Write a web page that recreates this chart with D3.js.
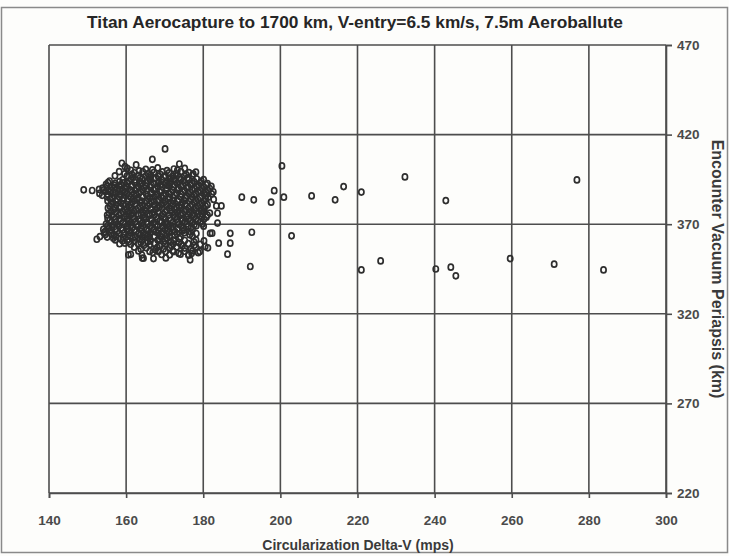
<!DOCTYPE html>
<html>
<head>
<meta charset="utf-8">
<script src="https://cdn.jsdelivr.net/npm/d3@7"></script>
<style>
  html, body { margin: 0; padding: 0; background: #fdfdfb; }
  svg { display: block; }
  text { font-family: "Liberation Sans", Arial, sans-serif; }
</style>
</head>
<body>
<svg id="chart" width="729" height="556"></svg>
<script>
// ---- data ----
const chartTitle = "Titan Aerocapture to 1700 km, V-entry=6.5 km/s, 7.5m Aeroballute";
const xTitle = "Circularization Delta-V (mps)";
const yTitle = "Encounter Vacuum Periapsis (km)";
const xTicks = [140, 160, 180, 200, 220, 240, 260, 280, 300];
const yTicks = [220, 270, 320, 370, 420, 470];

// Monte Carlo cases: [delta-V (m/s), periapsis (km)] — dense core
const coreCases = [
  [160.3,401.2],[165.1,400.6],[168.2,401.4],[172.4,400.8],[175.2,401.1],
  [158.2,399.3],[162.1,398.7],[164.3,399.4],[167.2,398.9],[169.4,399.2],[171.1,398.6],[174.2,399.3],[176.3,398.8],[178.1,399.1],
  [160.2,396.8],[163.1,397.3],[165.2,396.9],[166.4,397.4],[168.3,396.7],[170.2,397.1],[172.1,396.8],[173.4,397.3],[175.1,396.9],[177.2,397.2],
  [159.1,394.8],[161.3,395.3],[162.4,394.7],[164.2,395.2],[166.1,394.9],[167.3,395.4],[169.2,394.8],[171.3,395.2],[172.4,394.7],[174.1,395.1],[176.2,394.8],[178.3,395.3],[180.1,394.9],
  [155.3,393.2],[157.2,392.8],[159.4,393.1],[160.3,392.7],[162.2,393.3],[164.1,392.9],[165.3,393.2],[167.1,392.8],[168.4,393.3],[170.2,392.7],[171.3,393.1],[173.2,392.9],[175.3,393.2],[177.1,392.8],[179.2,393.1],[181.1,392.7],
  [155.1,391.2],[156.3,390.8],[158.2,391.3],[160.1,390.7],[161.4,391.1],[163.2,390.9],[165.1,391.3],[166.3,390.8],[168.2,391.2],[169.4,390.7],[171.1,391.3],[172.3,390.9],[174.2,391.1],[176.1,390.8],[178.3,391.2],[180.2,390.7],[182.1,391.1],
  [154.2,389.1],[156.1,388.8],[158.3,389.3],[159.2,388.7],[161.1,389.2],[162.3,388.9],[164.2,389.3],[165.4,388.8],[167.1,389.1],[169.2,388.7],[170.4,389.2],[172.1,388.9],[173.3,389.3],[175.2,388.8],[177.1,389.1],[179.3,388.7],[181.2,389.2],
  [153.1,387.2],[155.2,386.8],[157.1,387.3],[158.4,386.7],[160.2,387.1],[162.1,386.9],[163.3,387.3],[165.2,386.8],[166.4,387.2],[168.1,386.7],[170.3,387.1],[171.2,386.9],[173.1,387.3],[174.3,386.8],[176.2,387.2],[178.1,386.7],[180.3,387.1],[182.2,386.9],
  [155.1,385.2],[156.4,384.8],[158.2,385.3],[159.3,384.7],[161.2,385.1],[163.1,384.9],[164.3,385.3],[166.2,384.8],[167.4,385.2],[169.1,384.7],[171.3,385.1],[172.2,384.9],[174.1,385.3],[175.4,384.8],[177.2,385.2],[179.1,384.7],[181.3,385.1],
  [155.2,383.1],[157.3,382.8],[159.1,383.3],[160.4,382.7],[162.2,383.2],[164.1,382.9],[165.3,383.1],[167.2,382.8],[168.4,383.3],[170.1,382.7],[172.2,383.1],[173.4,382.9],[175.1,383.2],[176.3,382.8],[178.2,383.1],[180.1,382.7],
  [156.1,381.2],[157.4,380.8],[159.2,381.1],[161.1,380.9],[162.3,381.3],[164.2,380.7],[166.1,381.2],[167.3,380.8],[169.2,381.1],[170.4,380.9],[172.1,381.3],[174.2,380.7],[175.3,381.2],[177.1,380.8],[179.2,381.1],[181.1,380.9],
  [155.3,379.1],[157.1,378.8],[158.3,379.2],[160.2,378.7],[161.4,379.3],[163.1,378.9],[165.2,379.1],[166.4,378.8],[168.1,379.2],[169.3,378.7],[171.2,379.1],[173.1,378.9],[174.3,379.3],[176.2,378.8],[178.1,379.1],[180.3,378.7],
  [156.2,377.2],[157.3,376.8],[159.1,377.1],[160.4,376.9],[162.1,377.3],[164.3,376.7],[165.1,377.2],[167.2,376.8],[168.3,377.1],[170.1,376.9],[171.4,377.3],[173.2,376.7],[175.1,377.2],[176.3,376.8],[178.2,377.1],[180.1,376.9],
  [155.1,375.1],[156.3,374.8],[158.2,375.2],[160.1,374.7],[161.3,375.3],[163.2,374.9],[164.4,375.1],[166.1,374.8],[167.3,375.2],[169.2,374.7],[171.1,375.1],[172.3,374.9],[174.2,375.3],[176.1,374.8],[177.3,375.2],[179.2,374.7],[181.1,375.1],
  [155.2,373.2],[157.1,372.8],[158.4,373.1],[160.2,372.9],[162.1,373.3],[163.3,372.7],[165.2,373.2],[166.4,372.8],[168.1,373.1],[170.2,372.9],[171.3,373.3],[173.1,372.7],[174.4,373.2],[176.2,372.8],[178.1,373.1],[180.2,372.9],
  [156.1,371.1],[157.3,370.8],[159.2,371.2],[161.1,370.7],[162.4,371.3],[164.2,370.9],[165.3,371.1],[167.1,370.8],[169.2,371.2],[170.3,370.7],[172.1,371.1],[173.4,370.9],[175.2,371.3],[177.1,370.8],[179.3,371.2],
  [155.2,369.2],[156.4,368.8],[158.1,369.1],[160.3,368.9],[161.2,369.3],[163.1,368.7],[164.3,369.2],[166.2,368.8],[168.1,369.1],[169.4,368.9],[171.2,369.3],[172.1,368.7],[174.3,369.2],[176.1,368.8],[178.2,369.1],[180.1,368.9],
  [154.1,367.1],[156.2,366.8],[157.3,367.2],[159.1,366.7],[160.4,367.3],[162.2,366.9],[164.1,367.1],[165.3,366.8],[167.2,367.2],[168.4,366.7],[170.1,367.1],[172.2,366.9],[173.3,367.3],[175.1,366.8],[177.2,367.1],
  [154.3,365.2],[156.1,364.8],[158.2,365.1],[159.4,364.9],[161.1,365.3],[163.2,364.7],[164.4,365.2],[166.1,364.8],[168.3,365.1],[169.2,364.9],[171.1,365.3],[173.2,364.7],[175.1,365.2],[178.2,364.8],
  [153.2,363.1],[155.1,362.8],[157.3,363.2],[159.2,362.7],[161.1,363.3],[162.3,362.9],[164.2,363.1],[166.1,362.8],[167.4,363.2],[169.1,362.7],[171.3,363.1],[174.1,362.9],[177.2,363.3],
  [157.2,361.2],[159.1,360.8],[160.3,361.1],[162.2,360.9],[164.1,361.3],[166.3,360.7],[168.2,361.2],[170.1,360.8],[172.3,361.1],[175.2,360.9],[178.1,361.3],[180.2,360.7],
  [158.3,359.1],[161.2,358.8],[163.1,359.2],[166.2,358.7],[167.3,359.3],[170.1,358.9],[172.2,359.1],[174.3,358.8],[176.1,359.2],[179.2,358.7],
  [162.1,357.2],[165.2,356.8],[168.1,357.1],[171.3,356.9],[173.1,357.3],[175.2,356.7],[178.1,357.2],[181.2,356.8],
  [163.2,355.1],[166.1,354.8],[168.3,355.2],[170.2,354.7],[172.1,355.3],[175.1,354.9],[177.2,355.1],[179.1,354.8],
  [161.2,353.2],[164.1,352.8],[169.2,353.1],[171.3,352.9],[174.1,353.3],[176.2,352.7],
  [164.2,351.1],[167.1,350.8],[170.3,351.2]
];

// further core cases lying between the rows above
const coreCases2 = [
  [161.2,400.1],[163.4,399.8],[166.8,400.3],[170.6,399.9],[173.3,400.2],
  [159.6,398.1],[161.5,397.8],[165.7,398.2],[168.8,397.9],[172.9,398.3],[175.6,397.7],[177.4,398.1],
  [161.7,396.1],[163.6,395.9],[165.9,396.3],[167.7,395.7],[169.8,396.2],[171.6,395.8],[173.8,396.1],[175.9,395.9],
  [155.7,394.1],[158.3,393.8],[160.8,394.2],[163.5,393.9],[165.6,394.3],[168.4,393.7],[170.7,394.1],[172.8,393.9],[174.9,394.2],[177.6,393.8],[179.5,394.1],
  [154.8,392.2],[156.9,391.8],[158.7,392.1],[161.6,391.9],[163.7,392.3],[166.6,391.7],[168.9,392.2],[170.7,391.8],[172.6,392.1],[174.8,391.9],[176.7,392.2],[178.8,391.8],[180.7,392.1],
  [153.9,390.1],[157.6,389.8],[159.7,390.2],[162.7,389.9],[164.6,390.3],[167.6,389.7],[170.5,390.1],[173.6,389.9],[175.7,390.2],[177.8,389.8],[179.6,390.1],[181.7,389.9],
  [154.6,388.2],[156.7,387.8],[159.8,388.1],[161.6,387.9],[163.8,388.3],[166.7,387.7],[168.7,388.2],[171.6,387.8],[174.7,388.1],[176.6,387.9],[178.7,388.2],[180.8,387.8],[182.6,388.1],
  [153.8,386.1],[156.9,385.8],[158.8,386.2],[160.7,385.9],[162.7,386.3],[165.6,385.7],[167.8,386.1],[169.7,385.9],[172.6,386.2],[175.8,385.8],[177.6,386.1],[180.7,385.9],
  [155.9,384.2],[157.7,383.8],[160.6,384.1],[162.8,383.9],[165.7,384.3],[168.6,383.7],[170.8,384.2],[173.7,383.8],[176.8,384.1],[178.6,383.9],[180.6,384.2],[182.7,383.8],
  [156.6,382.1],[158.7,381.8],[161.6,382.2],[163.7,381.9],[166.6,382.3],[169.7,381.7],[171.6,382.1],[174.6,381.9],[177.7,382.2],[179.6,381.8],
  [155.8,380.2],[158.6,379.8],[160.7,380.1],[163.6,379.9],[165.7,380.3],[168.7,379.7],[171.8,380.2],[173.7,379.8],[176.6,380.1],[178.7,379.9],[180.6,380.2],
  [156.7,378.1],[159.8,377.8],[162.6,378.2],[164.8,377.9],[167.7,378.3],[170.6,377.7],[172.7,378.1],[175.6,377.9],[177.8,378.2],[179.7,377.8],
  [155.6,376.2],[158.7,375.8],[161.7,376.1],[163.8,375.9],[166.7,376.3],[169.6,375.7],[172.6,376.2],[174.7,375.8],[177.6,376.1],[179.6,375.9],[181.7,376.2],
  [156.8,374.1],[159.6,373.8],[161.7,374.2],[164.6,373.9],[167.8,374.3],[169.7,373.7],[172.7,374.1],[175.7,373.9],[177.6,374.2],[179.7,373.8],
  [155.7,372.2],[158.6,371.8],[160.7,372.1],[163.7,371.9],[166.6,372.3],[168.7,371.7],[171.6,372.2],[174.6,371.8],[176.7,372.1],[178.6,371.9],
  [154.8,370.1],[157.8,369.8],[160.6,370.2],[162.8,369.9],[165.7,370.3],[167.6,369.7],[170.8,370.1],[173.7,369.9],[175.8,370.2],[177.7,369.8],[179.8,370.1],
  [155.6,368.2],[158.7,367.8],[161.6,368.1],[163.8,367.9],[166.7,368.3],[169.6,367.7],[171.7,368.2],[174.7,367.8],[176.8,368.1],
  [155.7,366.1],[157.6,365.8],[160.7,366.2],[162.6,365.9],[165.8,366.3],[167.7,365.7],[170.6,366.1],[172.7,365.9],[174.6,366.2],[176.7,365.8],
  [154.6,364.2],[156.8,363.8],[160.6,364.1],[163.7,363.9],[165.6,364.3],[168.8,363.7],[170.6,364.2],[172.6,363.8],[176.5,364.1],
  [156.7,362.1],[158.6,361.8],[161.7,362.2],[163.6,361.9],[165.7,362.3],[168.6,361.7],[170.7,362.1],[173.8,361.9],
  [160.7,360.1],[163.8,359.8],[165.6,360.2],[169.7,359.9],[171.6,360.3],[173.7,359.7],[177.6,360.1],
  [164.6,358.2],[168.8,357.8],[171.7,358.1],[174.6,357.9],[177.7,358.2],
  [163.8,356.1],[167.6,355.8],[169.7,356.2],[176.8,355.9],
  [166.9,354.2],[173.6,353.8],[178.7,354.1]
];

// scattered cases around and away from the core
const outerCases = [
  [170.1,412.0],[166.8,406.2],[173.8,403.6],[162.6,403.1],[158.9,404.0],[159.7,402.1],[157.1,397.0],
  [149.0,389.2],[151.2,388.8],[153.0,389.4],[155.3,389.0],[157.0,390.5],
  [183.4,380.2],[184.7,380.2],[183.7,376.1],[183.7,370.6],[180.8,373.9],[187.0,364.9],[187.0,359.4],
  [186.3,353.3],[181.8,364.9],[164.5,351.0],[176.6,350.1],[152.4,361.6],[154.5,365.9],[159.7,359.4],
  [160.6,352.9],[168.4,354.7],[172.3,354.7],[176.2,352.9],[177.0,353.8],[180.5,357.5],[184.0,359.4],[182.3,365.0],
  [190.0,385.1],[193.1,383.6],[197.6,382.3],[198.4,388.7],[200.4,402.5],[200.9,385.1],[208.1,385.8],
  [214.2,383.6],[216.4,391.0],[221.0,387.9],[232.3,396.4],[192.6,365.5],[202.9,363.5],[192.2,346.4],
  [221.0,344.5],[226.0,349.5],[240.3,345.0],[242.9,383.2],[244.2,346.0],[245.5,341.2],[259.6,350.8],
  [271.0,347.7],[276.9,394.7],[283.8,344.5]
];

// ---- drawing ----
const svg = d3.select("#chart");
const W = 729, H = 556;
const x = d3.scaleLinear().domain([140, 300]).range([49, 666]);
const y = d3.scaleLinear().domain([220, 470]).range([493, 45]);
const gridColor = "#4d4d4d";

// outer frame (scanned page edge)
svg.append("rect").attr("x", 1.5).attr("y", 7.5).attr("width", W - 3).attr("height", H - 11)
  .attr("fill", "none").attr("stroke", "#8a8a8a").attr("stroke-width", 1.5);

// grid
const g = svg.append("g");
g.selectAll("line.vg").data(xTicks).join("line")
  .attr("x1", d => x(d)).attr("x2", d => x(d))
  .attr("y1", y(470)).attr("y2", y(220))
  .attr("stroke", gridColor).attr("stroke-width", 1.6);
g.selectAll("line.hg").data(yTicks).join("line")
  .attr("x1", x(140)).attr("x2", x(300))
  .attr("y1", d => y(d)).attr("y2", d => y(d))
  .attr("stroke", gridColor).attr("stroke-width", 1.6);

// axes
const xAxis = svg.append("g").attr("transform", `translate(0,${y(220)})`)
  .call(d3.axisBottom(x).tickValues(xTicks).tickSize(5).tickPadding(17).tickFormat(d3.format("d")));
const yAxis = svg.append("g").attr("transform", `translate(${x(300)},0)`)
  .call(d3.axisRight(y).tickValues(yTicks).tickSize(6).tickPadding(5).tickFormat(d3.format("d")));
[xAxis, yAxis].forEach(a => {
  a.select(".domain").attr("stroke", gridColor).attr("stroke-width", 1.6);
  a.selectAll(".tick line").attr("stroke", gridColor).attr("stroke-width", 1.6);
  a.selectAll(".tick text").attr("fill", "#4a4a4a").attr("font-size", 13.5)
    .attr("font-weight", "bold").attr("font-family", "Liberation Sans, Arial, sans-serif");
});

// points
const allCases = coreCases.concat(coreCases2, outerCases);
svg.append("g").selectAll("ellipse").data(allCases).join("ellipse")
  .attr("cx", d => x(d[0])).attr("cy", d => y(d[1]))
  .attr("rx", 2.6).attr("ry", 3.0)
  .attr("fill", "none").attr("stroke", "#2e2e2e").attr("stroke-width", 1.7);

// titles
svg.append("text").attr("x", 355).attr("y", 28).attr("text-anchor", "middle")
  .attr("font-size", 17.3).attr("font-weight", "bold").attr("fill", "#262626").text(chartTitle);
svg.append("text").attr("x", 358).attr("y", 550).attr("text-anchor", "middle")
  .attr("font-size", 14).attr("font-weight", "bold").attr("fill", "#3a3a3a").text(xTitle);
svg.append("text").attr("transform", `translate(712,269) rotate(90)`).attr("text-anchor", "middle")
  .attr("font-size", 16).attr("font-weight", "bold").attr("fill", "#3a3a3a").text(yTitle);
</script>
</body>
</html>
